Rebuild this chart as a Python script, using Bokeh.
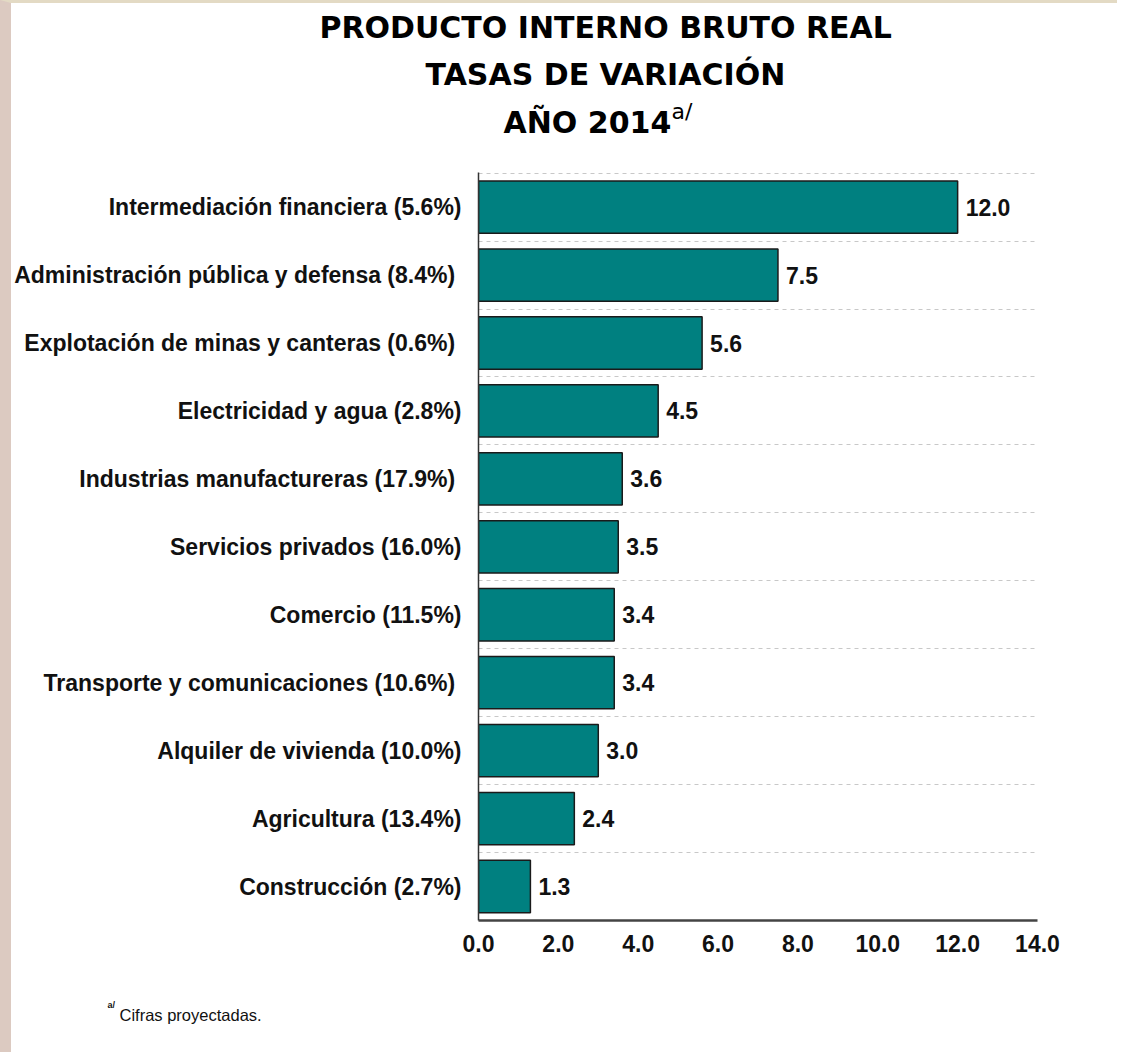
from bokeh.plotting import figure
from bokeh.models import Range1d, FixedTicker, ColumnDataSource, NumeralTickFormatter, Title
from bokeh.core.properties import value
from bokeh.embed import file_html
from bokeh.resources import INLINE

# ---- data ----
categories = [
    "Intermediación financiera (5.6%)",
    "Administración pública y defensa (8.4%) ",
    "Explotación de minas y canteras (0.6%) ",
    "Electricidad y agua (2.8%)",
    "Industrias manufactureras (17.9%) ",
    "Servicios privados (16.0%)",
    "Comercio (11.5%)",
    "Transporte  y comunicaciones (10.6%)",
    "Alquiler de vivienda (10.0%)",
    "Agricultura (13.4%)",
    "Construcción (2.7%)",
]
values = [12.0, 7.5, 5.6, 4.5, 3.6, 3.5, 3.4, 3.4, 3.0, 2.4, 1.3]
x_ticks = [0, 2, 4, 6, 8, 10, 12, 14]
title_lines = ["PRODUCTO INTERNO BRUTO REAL", "TASAS DE VARIACIÓN", "AÑO 2014"]
title_sup = "a/"
footnote_sup = "a/"
footnote = "Cifras proyectadas."

n = len(categories)
ypos = [n - 1 - i for i in range(n)]  # first category on top

NARROW = "'Liberation Sans Narrow', 'Arial Narrow', 'Liberation Sans', sans-serif"
TITLE_FONT = "DejaVu Sans"

W, H = 1117, 1052
ML, MR, MT, MB = 466, 91, 169, 135

p = figure(width=W, height=H, output_backend="svg", toolbar_location=None,
           x_range=Range1d(0, 14), y_range=Range1d(-0.5, n - 0.5 + 0.01),
           min_border_left=ML, min_border_right=MR, min_border_top=MT, min_border_bottom=MB,
           background_fill_color="white", border_fill_color="white", title=None)
p.outline_line_color = None
p.styles = {"border-left": "11px solid #dccac1", "border-top": "3px solid #e3dac4"}

src = ColumnDataSource(dict(y=ypos, v=values, lab=[f"{v:.1f}" for v in values], cat=categories))
p.hbar(y="y", right="v", left=0, height=0.77, source=src,
       fill_color="#008080", line_color="#1a1a1a", line_width=1.5)
p.text(x="v", y="y", text="lab", source=src, x_offset=8, text_baseline="middle",
       text_align="left", text_font=value(NARROW), text_font_style="bold",
       text_font_size="23px", text_color="#111111")

# axes
p.yaxis.ticker = FixedTicker(ticks=ypos)
p.yaxis.major_label_overrides = {y: c for y, c in zip(ypos, categories)}
p.yaxis.major_tick_out = 0
p.yaxis.major_tick_in = 0
p.yaxis.minor_tick_out = 0
p.yaxis.minor_tick_in = 0
p.yaxis.major_label_standoff = 17
p.yaxis.major_label_text_font = NARROW
p.yaxis.major_label_text_font_style = "bold"
p.yaxis.major_label_text_font_size = "23px"
p.yaxis.major_label_text_color = "#111111"
p.yaxis.axis_line_color = "#333333"
p.yaxis.axis_line_width = 1.5

p.xaxis.ticker = FixedTicker(ticks=x_ticks)
p.xaxis.formatter = NumeralTickFormatter(format="0.0")
p.xaxis.major_tick_out = 0
p.xaxis.major_tick_in = 0
p.xaxis.minor_tick_out = 0
p.xaxis.minor_tick_in = 0
p.xaxis.major_label_standoff = 14
p.xaxis.major_label_text_font = NARROW
p.xaxis.major_label_text_font_style = "bold"
p.xaxis.major_label_text_font_size = "23px"
p.xaxis.major_label_text_color = "#111111"
p.xaxis.axis_line_color = "#444444"
p.xaxis.axis_line_width = 2.5

p.xgrid.grid_line_color = None
p.ygrid.ticker = FixedTicker(ticks=[y + 0.5 for y in ypos])
p.ygrid.grid_line_color = "#c8c8c8"
p.ygrid.grid_line_dash = "4 4"
p.ygrid.grid_line_width = 1

FRAME_LEFT = 477  # page px of the frame's left edge


def title(text, left_px, size, standoff, valign="middle", font=TITLE_FONT, style="bold",
          color="black"):
    return Title(text=text, align="left", offset=left_px - FRAME_LEFT, vertical_align=valign,
                 text_font=font, text_font_style=style, text_font_size=size,
                 text_color=color, standoff=standoff)


# ---- title block, stacked above the frame (nearest first) ----
p.add_layout(Title(text=" ", text_font_size="1px", standoff=36), "above")          # spacer
p.add_layout(title(title_lines[2], 502, "30px", -15), "above")
p.add_layout(title(title_sup, 670, "22px", -24, valign="bottom", style="normal"), "above")
p.add_layout(title(title_lines[1], 424, "30px", 31), "above")
p.add_layout(title(title_lines[0], 318, "30px", -11), "above")

# ---- footnote, stacked below the x axis ----
p.add_layout(Title(text=" ", text_font_size="1px", standoff=46), "below")          # spacer
p.add_layout(title(footnote_sup, 106, "9px", -11, valign="bottom", font=NARROW,
                   color="#111111"), "below")
p.add_layout(title(footnote, 118, "16.5px", 0, font=NARROW, style="normal",
                   color="#111111"), "below")

open("out.html", "w").write(file_html(p, INLINE))
